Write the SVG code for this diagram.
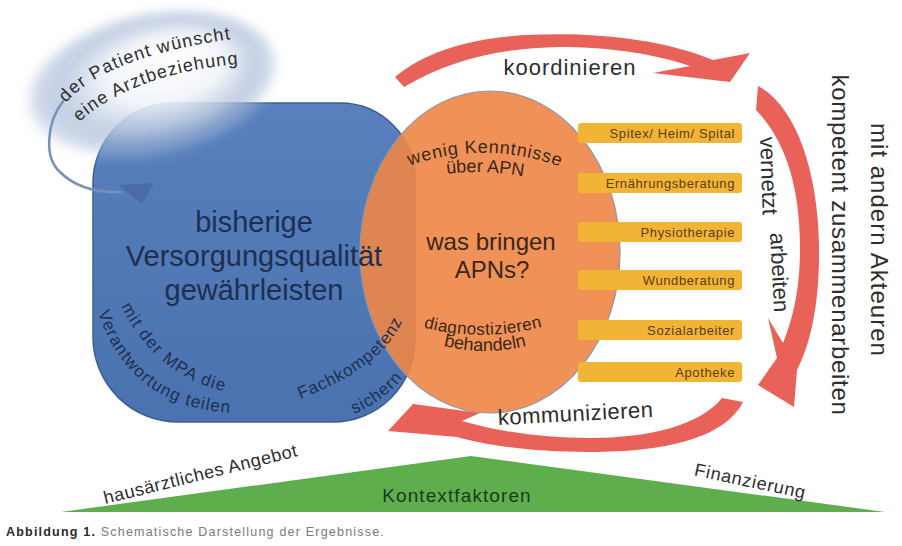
<svg xmlns="http://www.w3.org/2000/svg" width="902" height="546" viewBox="0 0 902 546">
<defs>
<style>
text{font-family:"Liberation Sans",Arial,sans-serif}
.dk{fill:#2e2e2e}
.bt{fill:#1e2f50}
.ot{fill:#3a2618}
.lab{fill:#f2b437}
.labt{fill:#5a3e12;font-size:13px;letter-spacing:0.6px;text-anchor:end}
.red{fill:#e8625a}
</style>
<radialGradient id="glowGrad" cx="0.5" cy="0.5" r="0.5" fx="0.62" fy="0.36">
<stop offset="0" stop-color="#ffffff" stop-opacity="0.95"/>
<stop offset="0.45" stop-color="#f1f4f9" stop-opacity="0.9"/>
<stop offset="0.72" stop-color="#b9c8df" stop-opacity="0.85"/>
<stop offset="0.88" stop-color="#a2b5d4" stop-opacity="0.5"/>
<stop offset="1" stop-color="#ffffff" stop-opacity="0"/>
</radialGradient>
<filter id="soft" x="-20%" y="-20%" width="140%" height="140%"><feGaussianBlur stdDeviation="5"/></filter>
<linearGradient id="blueGrad" x1="0" y1="0" x2="0" y2="1">
<stop offset="0" stop-color="#5880bd"/>
<stop offset="1" stop-color="#4a72af"/>
</linearGradient>
<path id="pPat1" d="M66,103 Q105,57 232,39"/>
<path id="pPat2" d="M79,122 Q135,73 239,64"/>
<path id="pMpa1" d="M121,306 Q156,376 224,391"/>
<path id="pMpa2" d="M98,312 Q129,408 234,413"/>
<path id="pFach1" d="M300,399 Q391,365 406,310"/>
<path id="pFach2" d="M354,414 Q392,398 412,364"/>
<path id="pWenig" d="M406,167 Q484,138 564,168"/>
<path id="pUber" d="M438,175 Q485,168 532,178"/>
<path id="pDiag" d="M414,325 Q482,345 552,324"/>
<path id="pBeh" d="M436,344 Q485,358 534,344"/>
</defs>

<g id="node-versorgung">
<path d="M173,103 H340 A75,75 0 0 1 415,178 V340 A82,82 0 0 1 333,422 H178 A85,85 0 0 1 93,337 V183 A80,80 0 0 1 173,103 Z" fill="url(#blueGrad)" stroke="#3c5d92" stroke-width="1.5"/>
</g>

<g id="node-patient">
<ellipse cx="150" cy="84" rx="135" ry="74" transform="rotate(-12 150 84)" fill="url(#glowGrad)" filter="url(#soft)"/>
<text class="dk" font-size="18" letter-spacing="1.2"><textPath href="#pPat1">der Patient wünscht</textPath></text>
<text class="dk" font-size="18" letter-spacing="1.1"><textPath href="#pPat2">eine Arztbeziehung</textPath></text>
</g>

<g id="node-apn">
<ellipse cx="490" cy="252" rx="130" ry="161" fill="#ee8646" fill-opacity="0.9" stroke="#8f98a3" stroke-width="1.2"/>
<text class="ot" font-size="18" letter-spacing="0.8" text-anchor="middle"><textPath href="#pWenig" startOffset="50%">wenig Kenntnisse</textPath></text>
<text class="ot" font-size="18" text-anchor="middle"><textPath href="#pUber" startOffset="50%">über APN</textPath></text>
<text class="ot" font-size="24" text-anchor="middle"><tspan x="491" y="250">was bringen</tspan><tspan x="492" y="278">APNs?</tspan></text>
<text class="ot" font-size="17" letter-spacing="0.4" text-anchor="middle"><textPath href="#pDiag" startOffset="50%">diagnostizieren</textPath></text>
<text class="ot" font-size="18" text-anchor="middle"><textPath href="#pBeh" startOffset="50%">behandeln</textPath></text>
</g>

<g id="node-versorgung-text">
<text class="bt" font-size="29" text-anchor="middle"><tspan x="254" y="232">bisherige</tspan><tspan x="254" y="266">Versorgungsqualität</tspan><tspan x="254" y="300">gewährleisten</tspan></text>
<text class="bt" font-size="17" letter-spacing="1.4"><textPath href="#pMpa1">mit der MPA die</textPath></text>
<text class="bt" font-size="17" letter-spacing="1.2"><textPath href="#pMpa2">Verantwortung teilen</textPath></text>
</g>

<g id="node-fachkompetenz">
<text class="bt" font-size="17" letter-spacing="0.9"><textPath href="#pFach1">Fachkompetenz</textPath></text>
<text class="bt" font-size="17" letter-spacing="1"><textPath href="#pFach2">sichern</textPath></text>
</g>

<g id="node-spitex"><rect class="lab" x="578" y="123" width="164" height="20" rx="3"/><text class="labt" x="735" y="138">Spitex/ Heim/ Spital</text></g>
<g id="node-ernaehrung"><rect class="lab" x="578" y="173" width="164" height="20" rx="3"/><text class="labt" x="735" y="188">Ernährungsberatung</text></g>
<g id="node-physio"><rect class="lab" x="578" y="222" width="164" height="20" rx="3"/><text class="labt" x="735" y="237">Physiotherapie</text></g>
<g id="node-wund"><rect class="lab" x="578" y="270" width="164" height="20" rx="3"/><text class="labt" x="735" y="285">Wundberatung</text></g>
<g id="node-sozial"><rect class="lab" x="578" y="320" width="164" height="20" rx="3"/><text class="labt" x="735" y="335">Sozialarbeiter</text></g>
<g id="node-apotheke"><rect class="lab" x="578" y="362" width="164" height="20" rx="3"/><text class="labt" x="735" y="377">Apotheke</text></g>

<g id="connectors">
<path d="M64,100 C46,122 44,158 60,172 C75,187 98,193 122,192" fill="none" stroke="#7a90bb" stroke-width="2.5"/>
<polygon points="119,185 154,183 142,204" fill="#4a6aa8"/>
<path class="red" d="M395,77 C425,52 470,38 527,35 C590,32 660,38 713,60 L750,53 L730,82 L653,73 L690,66 C650,52 600,47 560,47 C500,48 450,60 404,87 Z"/>
<path class="red" d="M758,86 C795,105 818,170 819,245 C820,305 810,345 797,370 L794,407 L758,385 L777,358 L768,318 L783,343 C793,318 800,290 800,248 C800,185 785,140 756,110 Z"/>
<path class="red" d="M743,402 C725,438 665,452 590,452 C530,452 485,445 457,437 L388,431 L413,404 L480,413 L462,421 C500,432 545,438 590,438 C650,438 700,425 722,398 Z"/>
<text class="dk" font-size="22" letter-spacing="1" text-anchor="middle" x="570" y="75">koordinieren</text>
<text class="dk" font-size="22" letter-spacing="0.5" text-anchor="middle" transform="translate(576 421) rotate(-3)">kommunizieren</text>
<text class="dk" font-size="22" transform="translate(760 137) rotate(88)">vernetzt</text>
<text class="dk" font-size="22" transform="translate(770 233) rotate(87)">arbeiten</text>
</g>

<g id="node-akteure">
<text class="dk" font-size="24" letter-spacing="1" text-anchor="middle" transform="translate(871 240) rotate(90)">mit andern Akteuren</text>
<text class="dk" font-size="24" letter-spacing="0.7" text-anchor="middle" transform="translate(832 245) rotate(90)">kompetent zusammenarbeiten</text>
</g>

<g id="node-kontext">
<polygon points="61,512 471,456 885,512" fill="#5fae4d"/>
<text font-size="19" letter-spacing="1.1" text-anchor="middle" x="457" y="502" fill="#1c3a1a">Kontextfaktoren</text>
<text class="dk" font-size="18" letter-spacing="0.6" text-anchor="middle" transform="translate(202 480) rotate(-14)">hausärztliches Angebot</text>
<text class="dk" font-size="18" letter-spacing="0.8" text-anchor="middle" transform="translate(749 487) rotate(12)">Finanzierung</text>
</g>

<text x="6" y="536" font-size="12.5" letter-spacing="1.2"><tspan font-weight="bold" fill="#2a2a2a">Abbildung 1.</tspan><tspan fill="#7a7a7a"> Schematische Darstellung der Ergebnisse.</tspan></text>
</svg>
